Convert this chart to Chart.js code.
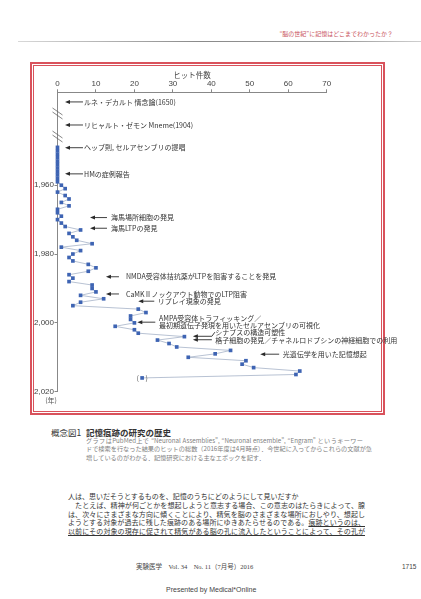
<!DOCTYPE html>
<html lang="ja">
<head>
<meta charset="utf-8">
<script src="https://cdn.jsdelivr.net/npm/chart.js@4/dist/chart.umd.min.js"></script>
<style>
html, body { margin: 0; padding: 0; background: #fff; }
#page { position: relative; width: 421px; height: 599px; overflow: hidden; font-family: "Noto Sans CJK JP", sans-serif; }
.t { position: absolute; white-space: nowrap; line-height: 1; }
.box1 { position: absolute; left: 30px; top: 62px; width: 355px; height: 353px; box-sizing: border-box; border: 2px solid #d9525c; }
.box2 { position: absolute; left: 33px; top: 64.5px; width: 349px; height: 347px; box-sizing: border-box; border: 1.2px solid #d9525c; }
.just { text-align: justify; text-align-last: justify; }
#chart { position: absolute; left: 0; top: 0; }
</style>
</head>
<body>
<div id="page">
	<div class="t" style="right:28px; top:31px; font-size:6px; color:#c9535d;">“脳の世紀”に記憶はどこまでわかったか？</div>
	<div style="position:absolute; left:18px; top:41px; width:403px; height:1.2px; background:linear-gradient(to right,#d8d8d8,#8a8a8a 45%,#9a9a9a 80%,#cfcfcf);"></div>

	<div class="box1"></div>
	<div class="box2"></div>

	<div class="t" style="left:51px; top:427.5px; font-size:8.5px; color:#333;">概念図1</div>
	<div class="t" style="left:86px; top:427.5px; font-size:8.5px; color:#333; font-weight:bold;">記憶痕跡の研究の歴史</div>
	<div class="t just" style="left:86px; top:438px; width:277px; font-size:6.2px; color:#808080;">グラフはPubMed上で “Neuronal Assemblies”, “Neuronal ensemble”, “Engram” というキーワー</div>
	<div class="t just" style="left:86px; top:446.3px; width:277px; font-size:6.2px; color:#808080;">ドで検索を行なった結果のヒットの総数（2016年度は4月時点）．今世紀に入ってからこれらの文献が急</div>
	<div class="t" style="left:86px; top:455.2px; font-size:6.2px; color:#808080;">増しているのがわかる．記憶研究における主なエポックを記す．</div>

	<div class="t" style="left:68px; top:492.5px; font-size:7px; color:#333;">人は、思いだそうとするものを、記憶のうちにどのようにして見いだすか</div>
	<div class="t just" style="left:68px; top:501.5px; width:297px; font-size:7px; color:#333;">　たとえば、精神が何ごとかを想起しようと意志する場合、この意志のはたらきによって、腺</div>
	<div class="t just" style="left:68px; top:510.5px; width:297px; font-size:7px; color:#333;">は、次々にさまざまな方向に傾くことにより、精気を脳のさまざまな場所におしやり、想起し</div>
	<div class="t just" style="left:68px; top:519.2px; width:297px; font-size:7px; color:#333;">ようとする対象が過去に残した痕跡のある場所にゆきあたらせるのである。<u>痕跡というのは、</u></div>
	<div class="t just" style="left:68px; top:528.2px; width:297px; font-size:7px; color:#333; text-decoration:underline;">以前にその対象の現存に促されて精気がある脳の孔に流入したということによって、その孔が</div>

	<div class="t" style="left:136px; top:564px; font-size:6.5px; color:#444; font-family:'Liberation Serif','Noto Sans CJK JP',serif;">実験医学　Vol. 34　No. 11（7月号）2016</div>
	<div class="t" style="left:402px; top:564px; font-size:6.5px; color:#444; font-family:'Liberation Sans',sans-serif;">1715</div>
	<div class="t" style="left:166px; top:585.5px; font-size:7px; color:#444; font-family:'Liberation Sans',sans-serif;">Presented by Medical*Online</div>

	<canvas id="chart" width="421" height="599"></canvas>
</div>

<script>
// hits per year (PubMed), 2016 is partial
const years = [
	1949, 1950, 1951, 1952, 1953, 1954, 1955, 1956, 1957, 1958, 1959,
	1960, 1961, 1962, 1963, 1964, 1965, 1966, 1967, 1968, 1969,
	1970, 1971, 1972, 1973, 1974, 1975, 1976, 1977, 1978, 1979,
	1980, 1981, 1982, 1983, 1984, 1985, 1986, 1987, 1988, 1989,
	1990, 1991, 1992, 1993, 1994, 1995, 1996, 1997, 1998, 1999,
	2000, 2001, 2002, 2003, 2004, 2005, 2006, 2007, 2008, 2009,
	2010, 2011, 2012, 2013, 2014, 2015, 2016
];
const hits = [
	0, 0, 0, 0, 0, 0, 0, 0, 0, 0, 0,
	1, 2, 0, 2, 3, 1, 3, 0, 0, 1,
	0, 1, 2, 6, 3, 4, 5, 9, 1, 6,
	4, 3, 4, 8, 10, 8, 3, 4, 3, 9,
	9, 10, 6, 12, 6, 4, 21, 23, 19, 19,
	20, 15, 20, 21, 33, 26, 29, 31, 45, 41,
	34, 49, 48, 51, 63, 62, 22
];
const hitTicks = [0, 10, 20, 30, 40, 50, 60, 70];
const yearTicks = [1960, 1980, 2000, 2020];

const eventLabels = [
	"ルネ・デカルト 情念論(1650)",
	"リヒャルト・ゼモン Mneme(1904)",
	"ヘッブ則, セルアセンブリの提唱",
	"HMの症例報告",
	"海馬場所細胞の発見",
	"海馬LTPの発見",
	"NMDA受容体拮抗薬がLTPを阻害することを発見",
	"CaMKⅡノックアウト動物でのLTP阻害",
	"リプレイ現象の発見",
	"AMPA受容体トラフィッキング／",
	"最初期遺伝子発現を用いたセルアセンブリの可視化",
	"シナプスの構造可塑性",
	"格子細胞の発見／チャネルロドプシンの神経細胞での利用",
	"光遺伝学を用いた記憶想起"
];
const eventYears = [1935.8, 1942.5, 1949.1, 1956.7, 1969.4, 1972.5, 1986.6, 1991.6, 1993.7, 1998.7, 2000.6, 2002.7, 2005.0, 2009.1];

function drawArrow(ctx, tip, tail, y) {
	ctx.beginPath();
	ctx.moveTo(tip + 3, y);
	ctx.lineTo(tail, y);
	ctx.stroke();
	ctx.beginPath();
	ctx.moveTo(tip, y);
	ctx.lineTo(tip + 5, y - 2);
	ctx.lineTo(tip + 5, y + 2);
	ctx.closePath();
	ctx.fill();
}

const callouts = {
	id: "callouts",
	afterDatasetsDraw(chart, args, opts) {
		const { ctx } = chart;
		const x = chart.scales.x;
		const y = chart.scales.y;
		ctx.save();
		ctx.strokeStyle = "#2a2a2a";
		ctx.fillStyle = "#2a2a2a";
		ctx.lineWidth = 0.9;
		opts.arrows.forEach((a) => {
			const tip = x.getPixelForValue(a.tip);
			drawArrow(ctx, tip, tip + a.len, y.getPixelForValue(a.year));
		});
		// bracket joining the two arrows to "シナプスの構造可塑性"
		const tx = x.getPixelForValue(opts.arrows[10].tip) + opts.arrows[10].len;
		ctx.beginPath();
		ctx.moveTo(tx, y.getPixelForValue(opts.arrows[10].year));
		ctx.lineTo(tx + 3, y.getPixelForValue(eventYears[11]));
		ctx.stroke();

		ctx.font = '7px "Noto Sans CJK JP"';
		ctx.textBaseline = "middle";
		ctx.textAlign = "left";
		ctx.fillStyle = "#333";
		eventLabels.forEach((t, i) => {
			ctx.fillText(t, x.getPixelForValue(opts.textAt[i]), y.getPixelForValue(eventYears[i]));
		});

		// axis breaks
		ctx.strokeStyle = "#666";
		ctx.lineWidth = 0.8;
		const ax = x.left;
		opts.breaks.forEach((b) => {
			const by = y.getPixelForValue(b);
			[-2, 2].forEach((d) => {
				ctx.beginPath();
				ctx.moveTo(ax - 5, by + d - 4);
				ctx.lineTo(ax + 5, by + d + 3);
				ctx.stroke();
			});
		});

		// partial year in parentheses
		const last = years.length - 1;
		const px = x.getPixelForValue(hits[last]);
		const py = y.getPixelForValue(years[last]);
		ctx.fillStyle = "#555";
		ctx.font = '7px "Noto Sans CJK JP"';
		ctx.textAlign = "center";
		ctx.fillText("(", px - 4.5, py);
		ctx.fillText(")", px + 4.5, py);

		// unit under the year axis
		ctx.fillText("(年)", y.left + 51, y.bottom + 9);
		ctx.restore();
	}
};

const data = {
	datasets: [
		{
			data: years.map((yr, i) => ({ x: hits[i], y: yr })),
			showLine: true,
			borderColor: "#a6b3c8",
			borderWidth: 0.8,
			pointStyle: "rect",
			pointRadius: 2.6,
			pointBorderWidth: 0,
			pointBackgroundColor: "#3e64b3",
			clip: false,
		},
	],
};

const options = {
	responsive: false,
	animation: false,
	layout: { padding: { left: 0, top: 62.3, right: 94.3, bottom: 207.3 } },
	plugins: {
		legend: { display: false },
		tooltip: { enabled: false },
		callouts: {
			arrows: [
				{ year: 1935.8, tip: 1.95, len: 18 },
				{ year: 1942.5, tip: 1.95, len: 18 },
				{ year: 1949.1, tip: 1.95, len: 18 },
				{ year: 1956.7, tip: 1.95, len: 18 },
				{ year: 1969.4, tip: 8.45, len: 17 },
				{ year: 1972.5, tip: 8.45, len: 17 },
				{ year: 1986.6, tip: 12.6, len: 13 },
				{ year: 1991.6, tip: 12.6, len: 13 },
				{ year: 1993.7, tip: 21, len: 16 },
				{ year: 1999.8, tip: 20.75, len: 18 },
				{ year: 2003.9, tip: 35.2, len: 19 },
				{ year: 2004.9, tip: 35.2, len: 19 },
				{ year: 2009.1, tip: 52.7, len: 19 },
			],
			textAt: [6.9, 6.9, 6.9, 6.9, 13.9, 13.9, 17.8, 17.8, 26.1, 26.4, 26.4, 41, 41, 58.6],
			breaks: [1939.3, 1946],
		},
	},
	scales: {
		x: {
			type: "linear",
			position: "top",
			min: 0,
			max: 70,
			afterFit: (scale) => { scale.height = 30; },
			afterBuildTicks: (scale) => { scale.ticks = hitTicks.map((v) => ({ value: v })); },
			grid: { drawOnChartArea: false, drawTicks: true, tickLength: 3, color: "#888" },
			border: { display: true, color: "#888", width: 1 },
			ticks: { padding: 1, color: "#444", font: { family: "Liberation Sans", size: 8 } },
			title: {
				display: true,
				text: "ヒット件数",
				color: "#444",
				font: { family: "Noto Sans CJK JP", size: 7.5 },
				padding: { top: 8, bottom: 0 },
			},
		},
		y: {
			type: "linear",
			reverse: true,
			min: 1933,
			max: 2020,
			afterFit: (scale) => { scale.width = 57.5; },
			afterBuildTicks: (scale) => { scale.ticks = yearTicks.map((v) => ({ value: v })); },
			grid: { drawOnChartArea: false, drawTicks: true, tickLength: 3, color: "#888" },
			border: { display: true, color: "#888", width: 1 },
			ticks: { padding: 0.5, color: "#444", font: { family: "Liberation Sans", size: 8 } },
		},
	},
};

new Chart(document.getElementById("chart").getContext("2d"), {
	type: "scatter",
	data: data,
	options: options,
	plugins: [callouts],
});
</script>
</body>
</html>
